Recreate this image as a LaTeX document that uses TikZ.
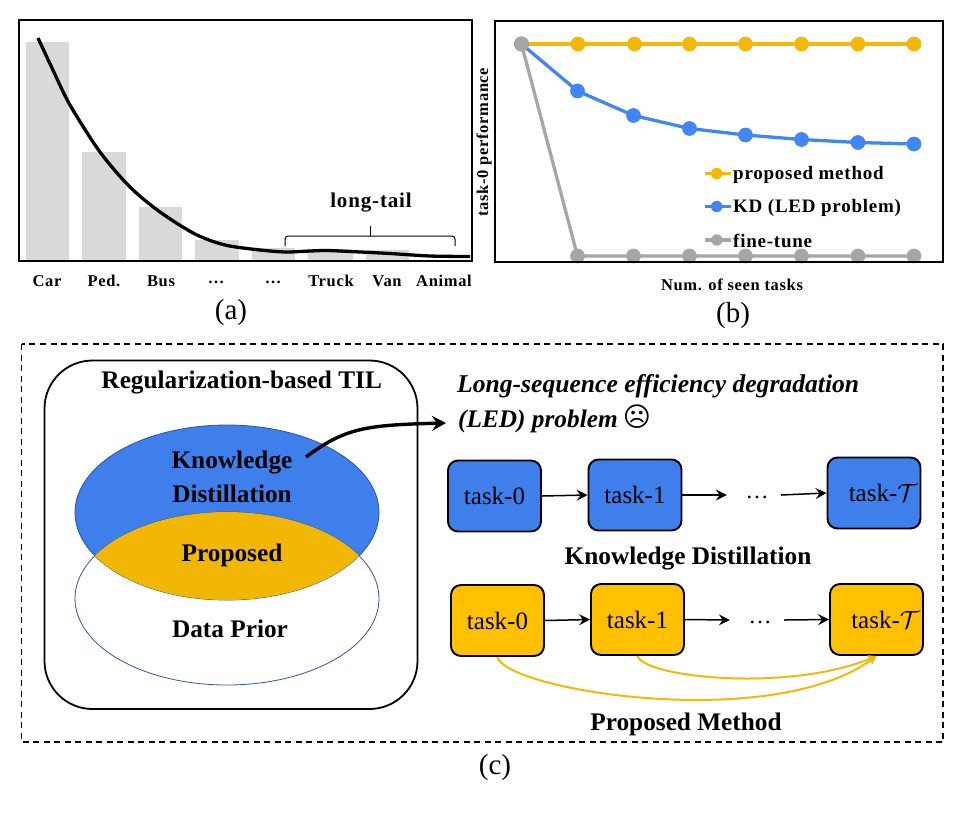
\documentclass[tikz,border=0pt]{standalone}
\usepackage{fontspec}
\setmainfont{Liberation Serif}
\newfontfamily\spaced[LetterSpace=4]{Liberation Serif}
\newfontfamily\facefont{DejaVu Sans}
\usetikzlibrary{arrows.meta,calc}
\newcommand\pxf[1]{\fontsize{#1}{#1}\selectfont}
\definecolor{bluefill}{HTML}{3E7FEC}
\definecolor{ellorange}{HTML}{F2B705}
\definecolor{taskorange}{HTML}{FFC000}
\definecolor{lineorange}{HTML}{F4B80A}
\definecolor{lineblue}{HTML}{4285F4}
\definecolor{linegray}{HTML}{A6A6A6}
\definecolor{bargray}{HTML}{D9D9D9}
\definecolor{elledge}{HTML}{2F5597}
\tikzset{
  x=1pt,y=-1pt,
  frame/.style={draw=black,line width=2.2pt},
  axislabel/.style={inner sep=0pt,font=\spaced\bfseries\pxf{16.5}},
  legendlabel/.style={inner sep=0pt,anchor=west,font=\spaced\bfseries\pxf{19}},
  caption/.style={inner sep=0pt,font=\pxf{29}},
  heading/.style={inner sep=0pt,font=\bfseries\pxf{25.3}},
  ell/.style={inner sep=0pt,font=\bfseries\pxf{25.3}},
  bluetask/.style={draw=black,line width=1.9pt,fill=bluefill,rounded corners=10pt,inner sep=0pt,minimum width=93pt,minimum height=71pt,font=\pxf{25}},
  orangetask/.style={bluetask,fill=taskorange},
  flow/.style={line width=1.5pt,-{Stealth[length=11pt,width=11pt,inset=4pt]}},
  skip/.style={draw=lineorange,line width=2pt,-{Stealth[length=8pt,width=8pt,inset=1pt]}},
  dotsnode/.style={inner sep=0pt,font=\pxf{23},minimum width=54pt,minimum height=20pt},
  series/.style={line width=3.3pt,mark=*,mark size=5.7pt},
}
\begin{document}
\begin{tikzpicture}
\useasboundingbox (0,0) rectangle (960,812);
% --- (a)
\foreach \xa/\xb/\yt in {26/69/42,81.5/126/152,139/182/207,195/239/240,252/295/248,308/353/249,366/409/250}
  \fill[bargray] (\xa,\yt) rectangle (\xb,261);
\draw[line width=3.3pt] plot[smooth,tension=0.5] coordinates {(38,38) (52,68) (70,105) (100,152) (130,187) (160,212) (195,234) (225,245) (260,250) (285,252) (300,251.5) (325,250.5) (350,251.5) (390,253.5) (430,256) (470,256.5)};
\draw[frame] (19,20) rectangle (472,261);
\node[axislabel] (lcar) at (47,281) {Car};
\node[axislabel] (lped) at (104,281) {Ped.};
\node[axislabel] (lbus) at (161,281) {Bus};
\node[axislabel] (ld1) at (216,281) {\raisebox{-5pt}{…}};
\node[axislabel] (ld2) at (273,281) {\raisebox{-5pt}{…}};
\node[axislabel] (ltruck) at (331,281) {Truck};
\node[axislabel] (lvan) at (387,281) {Van};
\node[axislabel] (lanimal) at (444,281) {Animal};
\node[inner sep=0pt,font=\spaced\bfseries\pxf{21}] (longtail) at (371,203) {long-tail};
\draw[line width=1pt,rounded corners=3pt] (285,246) -- (285,236) -- (455,236) -- (455,246);
\draw[line width=1pt] (370,236) -- (370,226);
\node[caption] (capa) at (231,313) {(a)};
% --- (b)
\draw[lineorange,series] plot coordinates {(521.5,44) (578,44) (634.5,44) (689.5,44) (745.5,44) (801.5,44) (858,44) (914,44)};
\draw[lineblue,series] plot coordinates {(521.5,44) (577.5,91) (633.5,115.5) (689.5,128.5) (745.5,135) (801.5,139.5) (858,142.5) (914,144)};
\draw[linegray,series] plot coordinates {(521.5,44) (577.5,256) (633.5,256) (689.5,256) (745.5,256) (801.5,256) (858,256) (914,256)};
\draw[frame] (495,21) rectangle (943,262);
\node[axislabel,rotate=90] (ylab) at (484,142) {task-0 performance};
\node[axislabel] (xlab) at (732,285) {Num. of seen tasks};
\coordinate (la1) at (705,173.5); \coordinate (la2) at (731,173.5);
\coordinate (lb1) at (705,206.5); \coordinate (lb2) at (731,206.5);
\coordinate (lc1) at (705,240);   \coordinate (lc2) at (731,240);
\draw[lineorange,line width=3.3pt] (la1) -- (la2);
\fill[lineorange] ($(la1)!0.45!(la2)$) circle (5.7pt);
\draw[lineblue,line width=3.3pt] (lb1) -- (lb2);
\fill[lineblue] ($(lb1)!0.45!(lb2)$) circle (5.7pt);
\draw[linegray,line width=3.3pt] (lc1) -- (lc2);
\fill[linegray] ($(lc1)!0.45!(lc2)$) circle (5.7pt);
\node[legendlabel] (leg1) at (733,174.5) {proposed method};
\node[legendlabel] (leg2) at (733,207.5) {KD (LED problem)};
\node[legendlabel] (leg3) at (733,240.5) {fine-tune};
\node[caption] (capb) at (733,316) {(b)};
% --- (c)
\draw[line width=1.3pt,dash pattern=on 6pt off 4.5pt] (21.5,344) rectangle (943,742);
\draw[line width=1.8pt,rounded corners=48pt] (44.5,360.5) rectangle (417.5,709);
\fill[bluefill] (227,512.5) ellipse [x radius=152pt,y radius=87.5pt];
\draw[elledge,line width=0.8pt] (227,512.5) ellipse [x radius=152pt,y radius=87.5pt];
\draw[elledge,line width=0.8pt] (227,598.5) ellipse [x radius=152pt,y radius=86.5pt];
\begin{scope}
  \clip (227,512.5) ellipse [x radius=152pt,y radius=87.5pt];
  \fill[ellorange] (227,598.5) ellipse [x radius=152pt,y radius=86.5pt];
\end{scope}
\node[heading] (til) at (241.7,383) {Regularization-based TIL};
\node[ell] (kd1) at (232,463) {Knowledge};
\node[ell] (kd2) at (232,494) {Distillation};
\node[ell] (prop) at (232,555.5) {Proposed};
\node[ell] (prior) at (230,629) {Data Prior};
\coordinate (ledstart) at (306,457);
\coordinate (ledend) at (446,423);
\draw[line width=3.4pt,-{Stealth[length=14pt,width=15pt,inset=5pt]}] (ledstart) .. controls (345,428) and (365,425) .. (ledend);
\node[inner sep=0pt,anchor=west,font=\bfseries\itshape\pxf{25.6}] (led1) at (457,386) {Long-sequence efficiency degradation};
\node[inner sep=0pt,anchor=west,font=\bfseries\itshape\pxf{25.3}] (led2) at (458,421) {(LED) problem};
\node[inner sep=0pt,font=\facefont\pxf{27}] (face) at (637,417) {☹};
\node[bluetask] (b0) at (494.5,496) {task-0};
\node[bluetask] (b1) at (635,495) {task-1};
\node[bluetask] (bT) at (874,493) {\hspace*{18pt}task-$\mathcal{T}$};
\node[dotsnode] (bd) at (754,495) {\hspace*{6pt}\raisebox{-7pt}{…}};
\draw[flow] (b0.east) -- (b1.west);
\draw[flow] (b1.east) -- (bd.west);
\draw[flow] (bd.east) -- (bT.west);
\node[heading] (kdtitle) at (688,559) {Knowledge Distillation};
\node[orangetask] (o0) at (497.5,620.5) {task-0};
\node[orangetask] (o1) at (637.5,619.5) {task-1};
\node[orangetask] (oT) at (876.5,619.5) {\hspace*{18pt}task-$\mathcal{T}$};
\node[dotsnode] (od) at (757,620) {\hspace*{6pt}\raisebox{-7pt}{…}};
\draw[flow] (o0.east) -- (o1.west);
\draw[flow] (o1.east) -- (od.west);
\draw[flow] (od.east) -- (oT.west);
\draw[skip] (o0.south) .. controls (505,690) and (770,733) .. (oT.south);
\draw[skip] (o1.south) .. controls (645,678) and (790,692) .. (oT.south);
\node[heading] (pmtitle) at (686,724) {Proposed Method};
\node[caption] (capc) at (495,768) {(c)};
\end{tikzpicture}
\end{document}
